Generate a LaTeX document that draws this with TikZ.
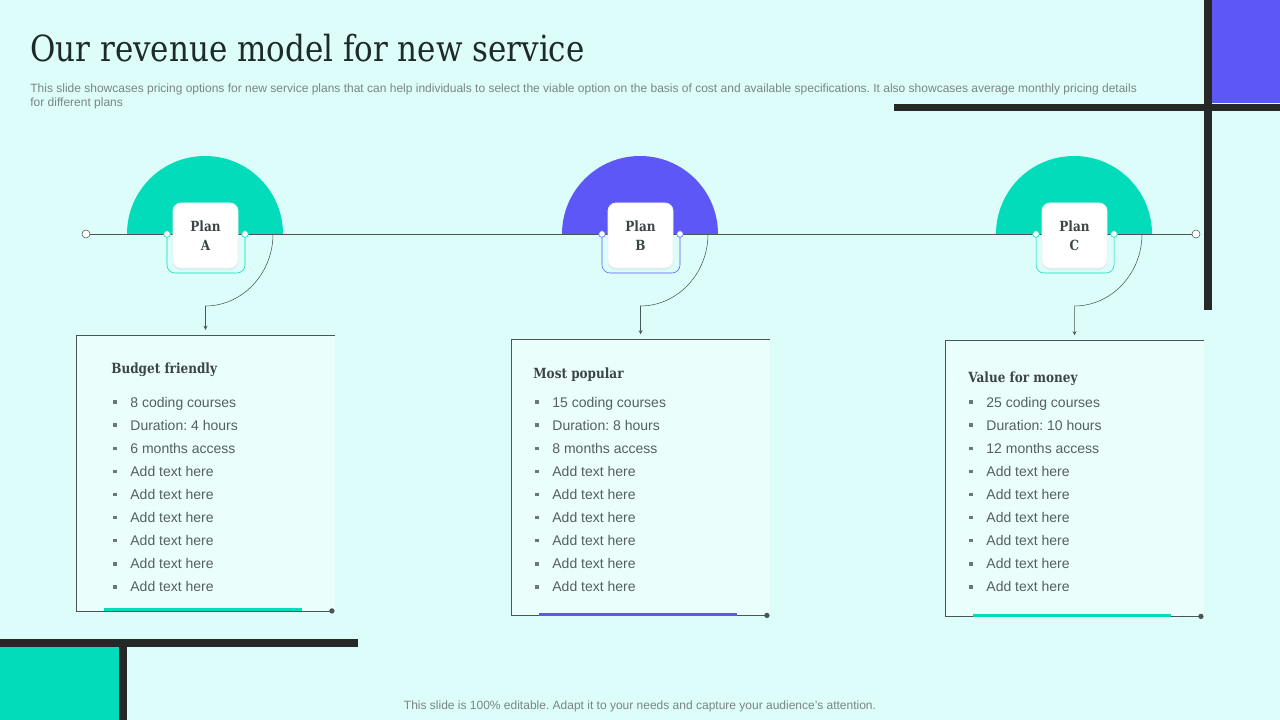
\documentclass[tikz,border=0pt]{standalone}
\usepackage{fontspec}
\setmainfont{Liberation Sans}
\newfontfamily\serifhead[FakeStretch=0.86]{DejaVu Serif}
\usetikzlibrary{positioning, shadows}
\frenchspacing

\definecolor{mintbg}{HTML}{DCFDF9}
\definecolor{cardbg}{HTML}{EAFEFC}
\definecolor{planteal}{HTML}{02DCBA}
\definecolor{planviolet}{HTML}{5E57F8}
\definecolor{barblack}{HTML}{262828}
\definecolor{inkdark}{HTML}{1E2A2A}
\definecolor{inkmid}{HTML}{3C4444}
\definecolor{inkgray}{HTML}{7A8585}
\definecolor{bodygray}{HTML}{555F5F}
\definecolor{wire}{HTML}{4A5555}

\tikzset{
  planbox/.style={fill=white, draw=black!6, rounded corners=6pt, minimum width=48.75pt, minimum height=48.75pt, inner sep=0pt, align=center, text=inkmid, font=\serifhead\bfseries\fontsize{10.5}{14.25}\selectfont, drop shadow={opacity=0.10, shadow xshift=0pt, shadow yshift=-1.5pt}},
  endring/.style={circle, draw=wire, fill=white, inner sep=0pt, minimum size=6pt, thin},
  jointdot/.style={circle, draw=#1, fill=white!70!mintbg, inner sep=0pt, minimum size=5pt, thin},
  card/.style={fill=cardbg, inner sep=0pt, minimum width=193.5pt, minimum height=206.25pt},
  cardhead/.style={anchor=base west, inner sep=0pt, text=inkmid, font=\serifhead\bfseries\fontsize{10.5}{13}\selectfont},
  bulletsq/.style={fill=bodygray!85, inner sep=0pt, minimum size=2.6pt},
  bullettext/.style={anchor=base west, inner sep=0pt, text=bodygray, font=\fontsize{10.5}{13}\selectfont},
}

\begin{document}
\begin{tikzpicture}[x=0.75pt, y=-0.75pt, >=stealth, semithick]
  \useasboundingbox[fill=mintbg] (0,0) rectangle (1280,720);

  % corner blocks
  \fill[planviolet] (1212,0) rectangle (1280,103);
  \fill[barblack] (1204,0) rectangle (1212,310);
  \fill[barblack] (894,104) rectangle (1280,111);
  \fill[planteal] (0,647) rectangle (119,720);
  \fill[barblack] (119,640) rectangle (127,720);
  \fill[barblack] (0,639) rectangle (358,647);

  % title and notes
  \node[anchor=base west, inner sep=0pt, text=inkdark, font=\serifhead\fontsize{27}{32}\selectfont] (title) at (30,62) {Our revenue model for new service};
  \node[anchor=north west, inner sep=0pt, align=left, text=inkgray, font=\fontsize{9}{10.6}\selectfont] (intro) at (30,83) {This slide showcases pricing options for new service plans that can help individuals to select the viable option on the basis of cost and available specifications. It also showcases average monthly pricing details\\for different plans};
  \node[inner sep=0pt, text=inkgray, font=\fontsize{9}{10}\selectfont] (footer) at (640,706) {This slide is 100\% editable. Adapt it to your needs and capture your audience's attention.};

  % half discs
  \foreach \x/\col in {205/planteal, 640/planviolet, 1074/planteal}
    \fill[\col] (\x-78,234) arc[start angle=180, end angle=360, radius=78];

  % timeline
  \node[endring] (lineL) at (86,234) {};
  \node[endring] (lineR) at (1196,234) {};
  \draw[wire, thin] (lineL) -- (lineR);

  \foreach \x/\lt/\col/\cy/\hx/\hy/\bx/\head/\ia/\ib/\ic in {
      205/A/planteal/473/111/368/115/Budget friendly/8 coding courses/Duration: 4 hours/6 months access,
      640/B/planviolet/477.5/533/373/537/Most popular/15 coding courses/Duration: 8 hours/8 months access,
      1074/C/planteal/478.5/968/377/971/Value for money/25 coding courses/Duration: 10 hours/12 months access} {
    % badge
    \coordinate (in\lt) at (\x-38,234);
    \coordinate (out\lt) at (\x+40,234);
    \coordinate (hook\lt) at (\x+68,234);
    \draw[\col, thin, rounded corners=6pt] (in\lt) -- ++(0,39) -| (out\lt);
    \node[planbox] (plan\lt) at (\x+0.5,235.5) {Plan\\\lt};
    \node[jointdot=\col] (dotin\lt) at (in\lt) {};
    \node[jointdot=\col] (dotout\lt) at (out\lt) {};

    % card
    \node[card] (card\lt) at (\x+0.5,\cy) {};
    \draw[wire, thin] (card\lt.north east) -- (card\lt.north west) -- (card\lt.south west) -- ([xshift=-2.25pt]card\lt.south east) node[circle, fill=wire, inner sep=0pt, minimum size=4pt] (end\lt) {};
    \draw[\col, line width=2.25pt] ([xshift=21pt, yshift=1pt]card\lt.south west) -- ([xshift=-24.75pt, yshift=1pt]card\lt.south east);
    \draw[wire, thin, ->, shorten >=4pt] (hook\lt) .. controls (\x+68,274) and (\x+37,306) .. (\x+0.5,306) -- (card\lt.north);

    \node[cardhead] (head\lt) at (\hx,\hy+5) {\head};
    \foreach \txt [count=\k] in {\ia,\ib,\ic,Add text here,Add text here,Add text here,Add text here,Add text here,Add text here} {
      \node[bulletsq] (sq\lt\k) at (\bx,379+23.1*\k) {};
      \node[bullettext] (item\lt\k) at (\bx+15,384+23.1*\k) {\txt};
    }
  }
\end{tikzpicture}
\end{document}
